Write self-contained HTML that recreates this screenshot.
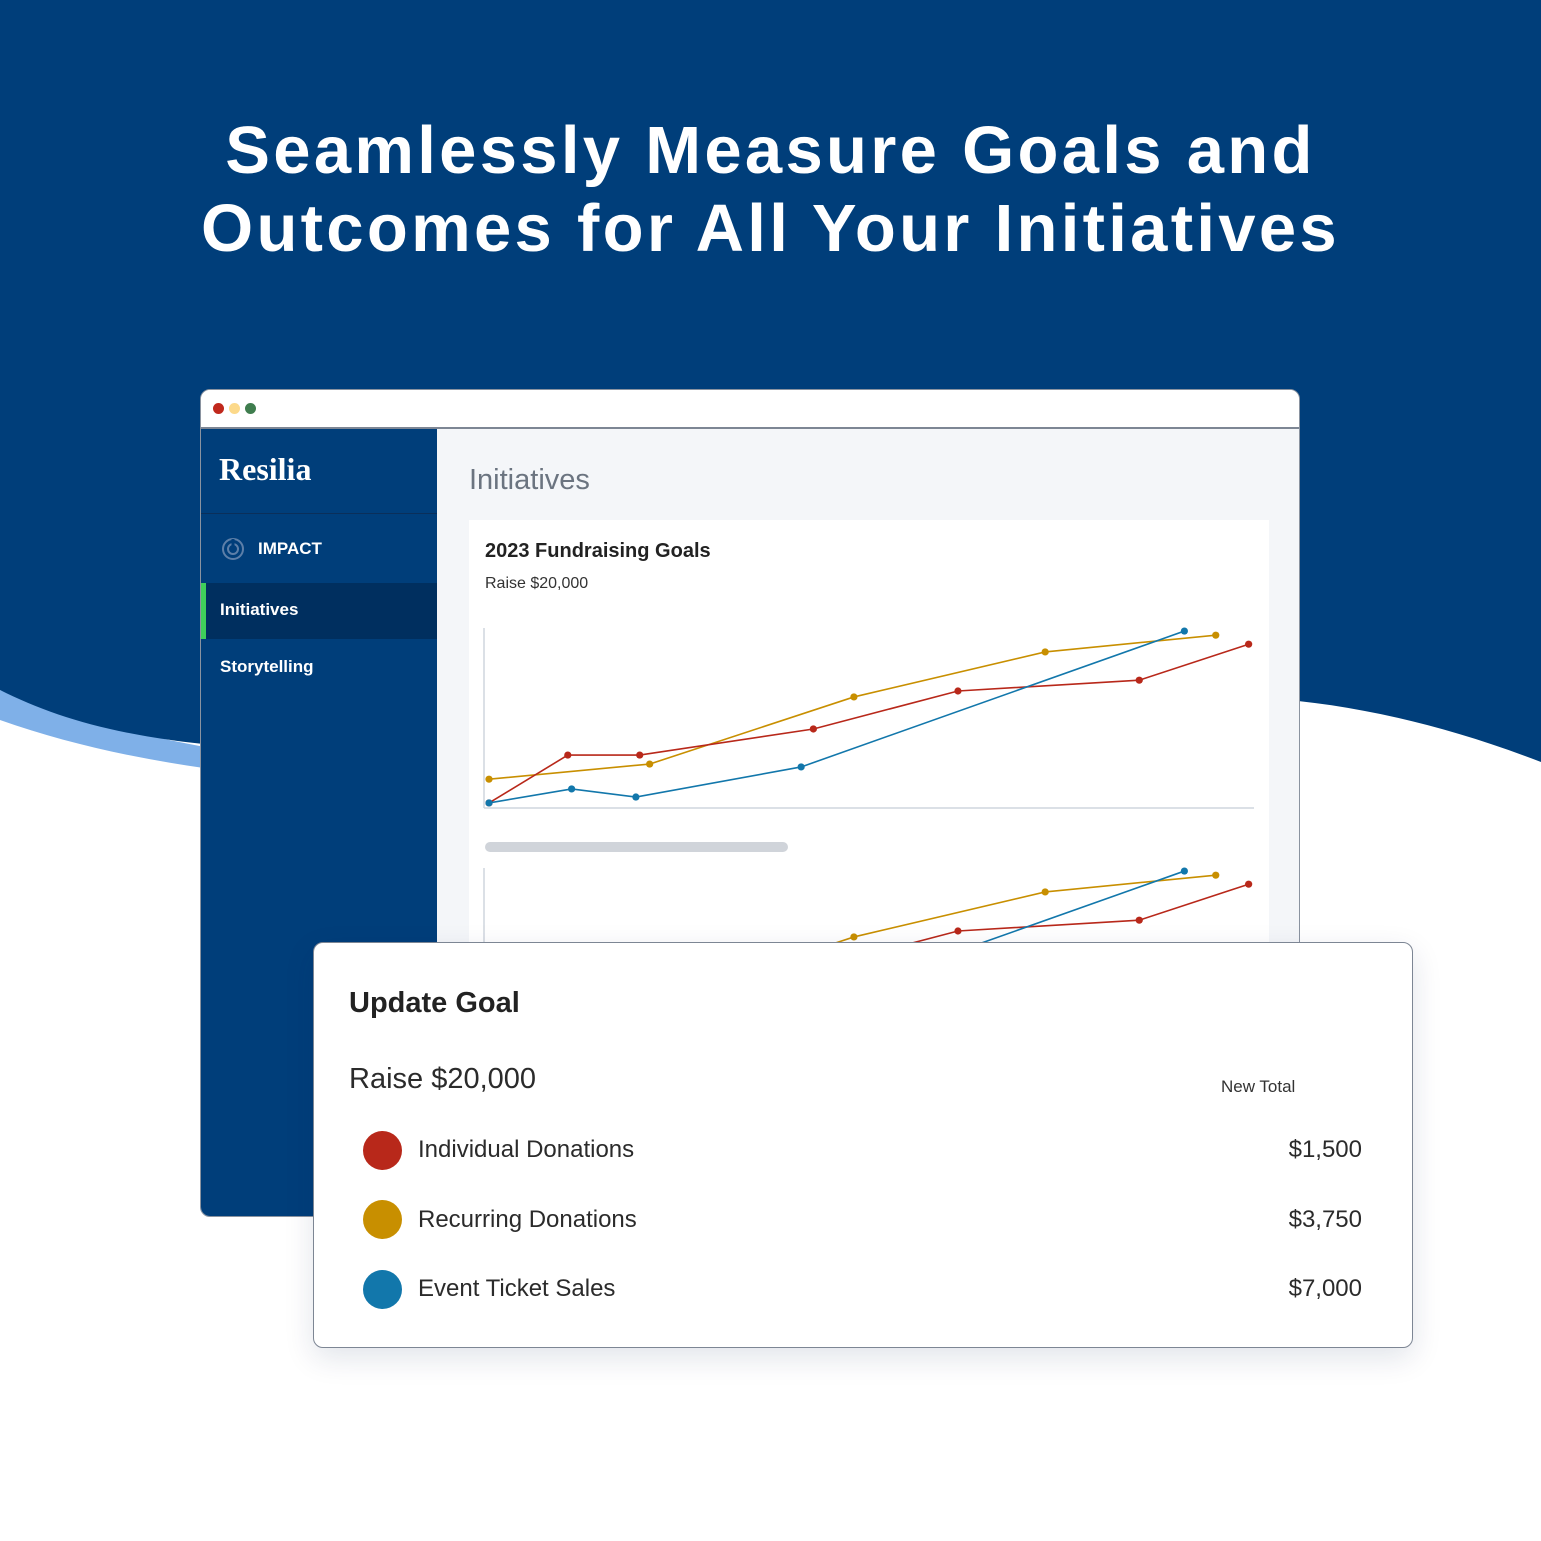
<!DOCTYPE html>
<html><head><meta charset="utf-8"><style>
body{margin:0;width:1541px;height:1541px;overflow:hidden;background:#fff;font-family:"Liberation Sans",sans-serif;position:relative}
.abs{position:absolute}
h1{position:absolute;left:0;top:112px;width:1541px;margin:0;text-align:center;color:#fff;font-size:67px;line-height:78px;font-weight:bold;letter-spacing:3.3px}
.win{left:200px;top:389px;width:1098px;height:826px;border:1px solid #8a93a0;border-radius:10px;overflow:hidden;background:#f4f6f9}
.bar{left:0;top:0;width:1098px;height:37px;background:#fff;border-bottom:2px solid #7d8694}
.dot{width:11px;height:11px;border-radius:50%;top:13px}
.side{left:0;top:39px;width:236px;height:790px;background:#003e7a}
.nav{color:#fff;font-size:17px;font-weight:bold;left:19px}
.modal{left:313px;top:942px;width:1098px;height:404px;border:1.5px solid #7d8694;border-radius:10px;background:#fff;box-shadow:0 10px 30px rgba(0,30,80,.12)}
.row{font-size:24px;color:#2b2b2b}
.circ{width:39px;height:39px;border-radius:50%;left:49px}
.amt{right:50px;font-size:24px;color:#2b2b2b}
</style></head><body>
<svg class="abs" style="left:0;top:0" width="1541" height="1541">
<path d="M0,690 C140,745 300,770 600,790 L0,790 Z" fill="#7fb0e8"/>
<path d="M0,0 H1541 V762 C1380,700 1250,690 1150,700 C700,720 400,760 250,748 C130,740 60,720 0,690 Z" fill="#003e7a"/>
<path d="M0,720 C80,748 160,764 260,775 L600,800 L0,800Z" fill="#fff"/>
</svg>
<h1>Seamlessly Measure Goals and<br>Outcomes for All Your Initiatives</h1>

<div class="abs win">
 <div class="abs bar">
  <div class="abs dot" style="left:12px;background:#c0281c"></div>
  <div class="abs dot" style="left:28px;background:#fcd98a"></div>
  <div class="abs dot" style="left:44px;background:#3f7d4e"></div>
 </div>
 <div class="abs side">
  <div class="abs" style="left:18px;top:22px;color:#fff;font-family:'Liberation Serif',serif;font-size:32px;font-weight:bold">Resilia</div>
  <div class="abs" style="left:0;top:84px;width:236px;height:1px;background:#0a2f5a"></div>
  <svg class="abs" style="left:20px;top:108px" width="24" height="24"><circle cx="12" cy="12" r="10" fill="none" stroke="#5d7fa8" stroke-width="2"/><circle cx="12" cy="12" r="5" fill="none" stroke="#5d7fa8" stroke-width="2"/><line x1="12" y1="12" x2="12" y2="2" stroke="#003e7a" stroke-width="3"/></svg>
  <div class="abs nav" style="left:57px;top:110px">IMPACT</div>
  <div class="abs" style="left:0;top:154px;width:236px;height:56px;background:#002f5f"><div class="abs" style="left:0;top:0;width:5px;height:56px;background:#3fcf5a"></div><div class="abs nav" style="top:17px">Initiatives</div></div>
  <div class="abs nav" style="top:228px">Storytelling</div>
 </div>
 <div class="abs" style="left:268px;top:74px;font-size:29px;color:#6b7480">Initiatives</div>
 <div class="abs" style="left:268px;top:130px;width:800px;height:720px;background:#fff">
  <div class="abs" style="left:16px;top:20px;font-size:20px;font-weight:bold;color:#222">2023 Fundraising Goals</div>
  <div class="abs" style="left:16px;top:55px;font-size:16px;color:#333">Raise $20,000</div>
  <div class="abs" style="left:16px;top:322px;width:303px;height:10px;border-radius:5px;background:#d0d4da"></div>
 </div>
</div>
<svg id="chart" class="abs" style="left:0;top:0" width="1541" height="1541"></svg>

<div class="abs modal">
 <div class="abs" style="left:35px;top:44px;font-size:29px;font-weight:bold;color:#222">Update Goal</div>
 <div class="abs" style="left:35px;top:120px;font-size:29px;color:#2b2b2b">Raise $20,000</div>
 <div class="abs" style="left:907px;top:134px;font-size:17px;color:#333">New Total</div>
 <div class="abs circ" style="top:188px;background:#b8281a"></div>
 <div class="abs row" style="left:104px;top:193px">Individual Donations</div>
 <div class="abs amt" style="top:193px">$1,500</div>
 <div class="abs circ" style="top:257px;background:#c88f00"></div>
 <div class="abs row" style="left:104px;top:263px">Recurring Donations</div>
 <div class="abs amt" style="top:263px">$3,750</div>
 <div class="abs circ" style="top:327px;background:#1277ab"></div>
 <div class="abs row" style="left:104px;top:332px">Event Ticket Sales</div>
 <div class="abs amt" style="top:332px">$7,000</div>
</div>
<script>
const redX=[0,10.3,19.7,42.4,61.3,85,99.3];
const redY=[2.8,29.4,29.4,43.9,65,71,91];
const goldX=[0,21,47.7,72.7,95];
const goldY=[16,24.4,61.7,86.7,96];
const blueX=[0,10.8,19.2,40.8,90.9];
const blueY=[2.8,10.6,6.1,22.8,98.3];
const NS='http://www.w3.org/2000/svg';
const svg=document.getElementById('chart');
const sx=v=>489+v*7.65;
function mk(t,a){const e=document.createElementNS(NS,t);for(const k in a)e.setAttribute(k,a[k]);return e;}
const defs=mk('defs',{});const cp=mk('clipPath',{id:'c2'});cp.appendChild(mk('rect',{x:0,y:0,width:1541,height:942}));defs.appendChild(cp);svg.appendChild(defs);
[[808,''],[1048,'2']].forEach(([base,suf])=>{
 const sy=v=>base-v*1.8;
 const g=mk('g',suf?{'clip-path':'url(#c2)'}:{});
 
 
 const ya=mk('line',{x1:484,y1:base-180,x2:484,y2:base,stroke:'#cfd5dd','stroke-width':1.5});
 
 
 g.appendChild(ya);
 const xa=mk('line',{x1:484,y1:base,x2:1254,y2:base,stroke:'#cfd5dd','stroke-width':1.5});
 
 
 g.appendChild(xa);
 [['gold',goldX,goldY,'#c88f00'],['red',redX,redY,'#b8281a'],['blue',blueX,blueY,'#1277ab']].forEach(([n,X,Y,c])=>{
  const pts=X.map((x,i)=>sx(x)+','+sy(Y[i])).join(' ');
  const pl=mk('polyline',{points:pts,fill:'none',stroke:c,'stroke-width':1.6});
  
  
  g.appendChild(pl);
  X.forEach((x,i)=>{const d=mk('circle',{cx:sx(x),cy:sy(Y[i]),r:3.6,fill:c});
   
   
   g.appendChild(d);});
 });
 svg.appendChild(g);
});
</script>
</body></html>
